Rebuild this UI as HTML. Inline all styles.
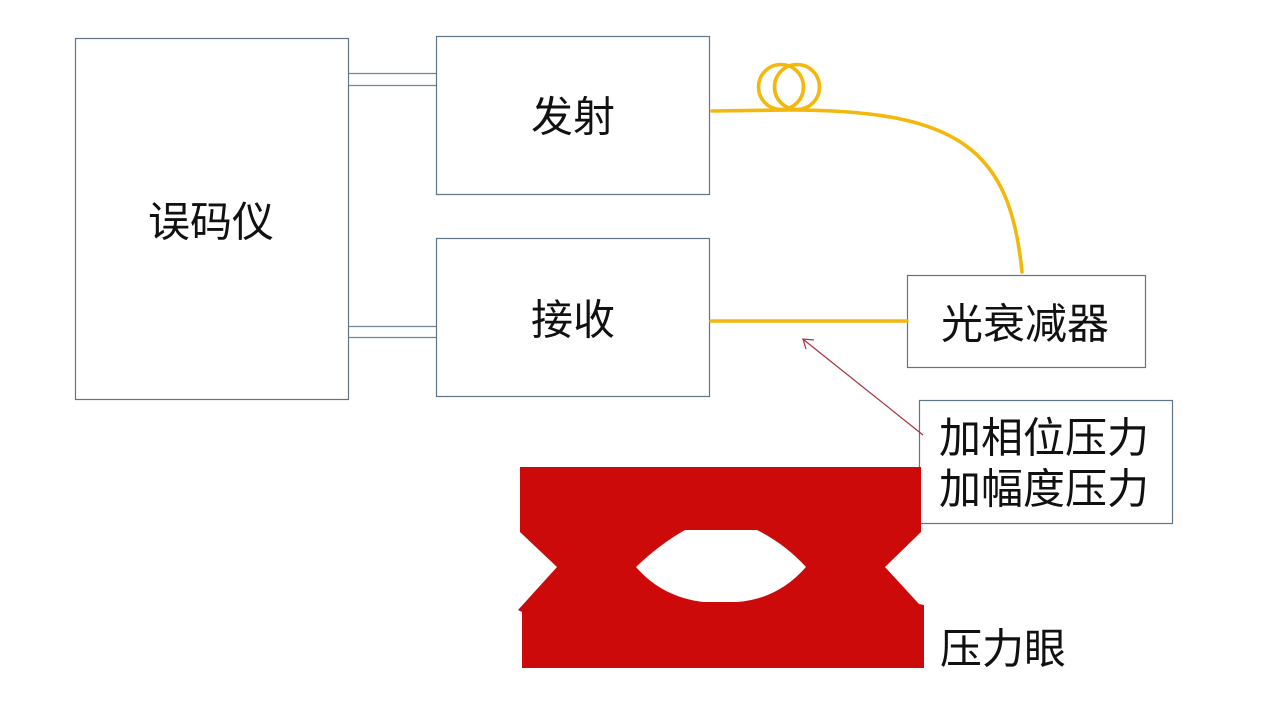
<!DOCTYPE html>
<html><head><meta charset="utf-8">
<style>
html,body{margin:0;padding:0;background:#fff;}
svg{display:block;}
text{font-family:"Liberation Sans","Noto Sans CJK SC","WenQuanYi Zen Hei",sans-serif;font-size:42px;fill:#111;}
</style></head>
<body>
<svg width="1280" height="720" viewBox="0 0 1280 720" xmlns="http://www.w3.org/2000/svg">
<rect width="1280" height="720" fill="#fff"/>
<!-- boxes -->
<g fill="none" stroke="#5f7487" stroke-width="1.2">
<rect x="75.5" y="38.5" width="273" height="361"/>
<rect x="436.5" y="36.5" width="273" height="158"/>
<rect x="436.5" y="238.5" width="273" height="158"/>
<rect x="907.5" y="275.5" width="238" height="92"/>
<rect x="919.5" y="400.5" width="253" height="123"/>
</g>
<!-- double lines -->
<g stroke="#6f8598" stroke-width="1.2">
<line x1="349" y1="73.5" x2="436" y2="73.5"/>
<line x1="349" y1="85.5" x2="436" y2="85.5"/>
<line x1="349" y1="326.5" x2="436" y2="326.5"/>
<line x1="349" y1="337.5" x2="436" y2="337.5"/>
</g>
<!-- fiber -->
<g fill="none" stroke="#f2b80c" stroke-width="3.6" stroke-linecap="round">
<path d="M712,111 L790,110 C960,110 1010,150 1022,272"/>
<circle cx="781" cy="87" r="22.5"/>
<circle cx="797" cy="87" r="22.5"/>
<line x1="711" y1="321" x2="907" y2="321"/>
</g>
<!-- arrow -->
<g stroke="#a8303e" stroke-width="1.2" fill="none">
<line x1="923" y1="435" x2="804" y2="340"/>
<polyline points="814,340 803,339 806,349"/>
</g>
<!-- eye -->
<path d="M520,467 L921,467 L921,532 L885,567 L919,604 L924,605 L924,668 L522,668 L522,612 L518,610 L557,567 L521,533 L520,532 Z" fill="#cc0a0a"/>
<path d="M685,530 L757,530 Q785,544 806,567 Q778,599 737,602 L703,602 Q662,597 636,567 Q660,544 685,530 Z" fill="#fff"/>
<!-- text -->
<g text-anchor="middle" dominant-baseline="central">
<text x="211" y="222">误码仪</text>
<text x="573" y="117">发射</text>
<text x="573" y="320">接收</text>
<text x="1025" y="324">光衰减器</text>
<text x="1044" y="438">加相位压力</text>
<text x="1044" y="489">加幅度压力</text>
<text x="1003" y="649">压力眼</text>
</g>
</svg>
</body></html>
